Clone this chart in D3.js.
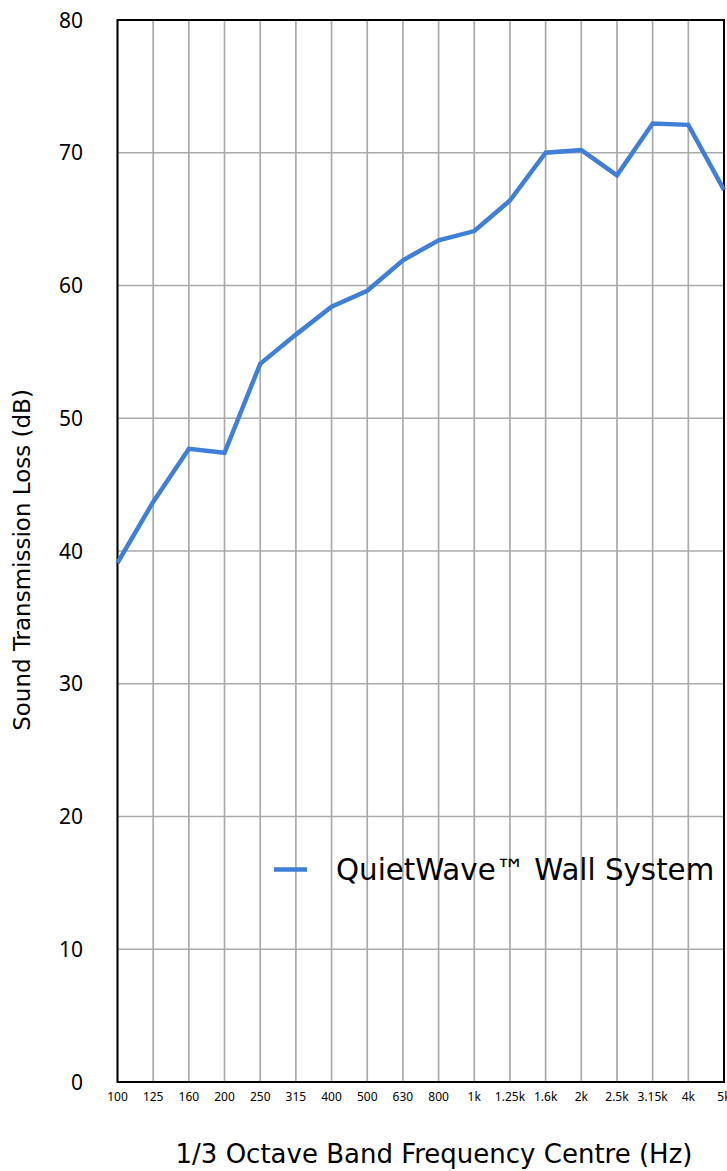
<!DOCTYPE html>
<html>
<head>
<meta charset="utf-8">
<script src="https://cdn.jsdelivr.net/npm/d3@7"></script>
<style>
  body { margin: 0; background: #fff; }
  svg { display: block; font-family: "Noto Sans", sans-serif; }
  .title { font-family: "DejaVu Sans", sans-serif; }
</style>
</head>
<body>
<svg id="chart" width="727" height="1171"></svg>
<script>
const bands = ["100", "125", "160", "200", "250", "315", "400", "500", "630", "800",
	"1k", "1.25k", "1.6k", "2k", "2.5k", "3.15k", "4k", "5k"];
const stlValues = [39.1, 43.7, 47.7, 47.4, 54.1, 56.3, 58.4, 59.6, 61.9, 63.4,
	64.1, 66.4, 70.0, 70.2, 68.3, 72.2, 72.1, 67.2];
const yTicks = [0, 10, 20, 30, 40, 50, 60, 70, 80];
const seriesName = "QuietWave\u2122 Wall System";

const margin = {top: 20, left: 117.5, right: 3, bottom: 89};
const width = 727, height = 1171;

const svg = d3.select("#chart");

const x = d3.scalePoint()
	.domain(bands)
	.range([margin.left, width - margin.right]);

const y = d3.scaleLinear()
	.domain([0, 80])
	.range([height - margin.bottom, margin.top]);

// grid
const grid = svg.append("g").attr("class", "grid");
grid.selectAll(".vgrid")
	.data(bands)
	.enter()
	.append("line")
		.attr("x1", d => x(d))
		.attr("x2", d => x(d))
		.attr("y1", y(0))
		.attr("y2", y(80))
		.style("stroke", "#aaa")
		.style("stroke-width", 1.7);

grid.selectAll(".hgrid")
	.data(yTicks)
	.enter()
	.append("line")
		.attr("x1", x.range()[0])
		.attr("x2", x.range()[1])
		.attr("y1", d => y(d))
		.attr("y2", d => y(d))
		.style("stroke", "#aaa")
		.style("stroke-width", 1.7);

// frame
svg.append("rect")
	.attr("x", x.range()[0])
	.attr("y", y(80))
	.attr("width", x.range()[1] - x.range()[0])
	.attr("height", y(0) - y(80))
	.style("fill", "none")
	.style("stroke", "#000")
	.style("stroke-width", 2);

// tick labels
svg.append("g")
	.selectAll("text")
	.data(yTicks)
	.enter()
	.append("text")
		.attr("x", 83)
		.attr("y", d => y(d))
		.attr("dy", "0.36em")
		.attr("text-anchor", "end")
		.style("font-size", "21px")
		.text(d => d);

svg.append("g")
	.selectAll("text")
	.data(bands)
	.enter()
	.append("text")
		.attr("x", d => x(d))
		.attr("y", 1101)
		.attr("text-anchor", "middle")
		.style("font-size", "12px")
		.text(d => d);

// axis titles
svg.append("text")
	.attr("class", "title")
	.attr("transform", "translate(30," + ((y(0) + y(80)) / 2 + 9) + ") rotate(-90)")
	.attr("text-anchor", "middle")
	.style("font-size", "23px")
	.text("Sound Transmission Loss (dB)");

svg.append("text")
	.attr("class", "title")
	.attr("x", 434)
	.attr("y", 1163)
	.attr("text-anchor", "middle")
	.style("font-size", "26px")
	.text("1/3 Octave Band Frequency Centre (Hz)");

// series
const line = d3.line()
	.x((d, i) => x(bands[i]))
	.y(d => y(d));

svg.append("path")
	.datum(stlValues)
	.attr("d", line)
	.style("fill", "none")
	.style("stroke", "#3f7fda")
	.style("stroke-width", 4.5)
	.style("stroke-linejoin", "miter");

// legend
const legend = svg.append("g").attr("transform", "translate(274," + y(16) + ")");
legend.append("line")
	.attr("x1", 0)
	.attr("x2", 33)
	.attr("y1", 0)
	.attr("y2", 0)
	.style("stroke", "#3f7fda")
	.style("stroke-width", 4.5);
legend.append("text")
	.attr("class", "title")
	.attr("x", 62)
	.attr("y", 0)
	.attr("dy", "0.36em")
	.style("font-size", "29.3px")
	.text(seriesName);
</script>
</body>
</html>
